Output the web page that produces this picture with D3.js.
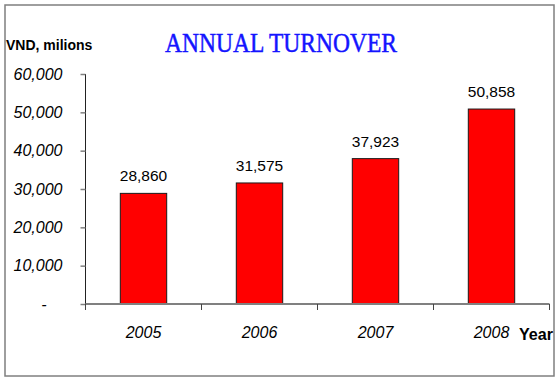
<!DOCTYPE html>
<html><head><meta charset="utf-8">
<script src="https://cdn.jsdelivr.net/npm/d3@7"></script>
<style>html,body{margin:0;padding:0;background:#fff;}svg{display:block;}</style>
</head><body>
<svg id="chart" width="560" height="382"></svg>
<script>
const categories = ["2005", "2006", "2007", "2008"];
const turnover = [28860, 31575, 37923, 50858];
const yTicks = [0, 10000, 20000, 30000, 40000, 50000, 60000];
const titleText = "ANNUAL TURNOVER";
const yAxisTitle = "VND, milions";
const xAxisTitle = "Year";

const SANS = "'Liberation Sans', Arial, sans-serif";
const svg = d3.select("#chart");
const m = {left: 85.5, right: 549.5, top: 74, bottom: 304};

svg.append("rect").attr("x", 5).attr("y", 5).attr("width", 549).attr("height", 371)
  .attr("fill", "#fff").attr("stroke", "#7f7f7f").attr("stroke-width", 1.5);

const x = d3.scaleBand().domain(categories).range([m.left, m.right]).paddingInner(0.6).paddingOuter(0.3);
const y = d3.scaleLinear().domain([0, 60000]).range([m.bottom, m.top]);

const fmt = d3.format(",");

// bars
svg.selectAll("rect.bar").data(categories).enter().append("rect")
  .attr("class", "bar")
  .attr("x", d => x(d))
  .attr("width", x.bandwidth())
  .attr("y", (d, i) => y(turnover[i]))
  .attr("height", (d, i) => y(0) - y(turnover[i]))
  .attr("fill", "#ff0000").attr("stroke", "#1a1a1a").attr("stroke-width", 1);

// y axis
const yAxis = d3.axisLeft(y).tickValues(yTicks).tickSize(5).tickPadding(18)
  .tickFormat(d => d === 0 ? "-" : fmt(d));
const gy = svg.append("g").attr("transform", `translate(${m.left},0)`).call(yAxis);
gy.select(".domain").attr("stroke", "#222").attr("stroke-width", 1).attr("d", `M0,${m.top}V${m.bottom + 5}`);
gy.selectAll(".tick line").attr("stroke", "#808080").attr("stroke-width", 1.5);
gy.selectAll(".tick text").attr("font-family", SANS)
  .attr("font-size", 16).attr("font-style", "italic").attr("fill", "#000");
gy.selectAll(".tick").filter(d => d === 0).select("text").attr("x", -39);

// x axis
const gx = svg.append("g");
gx.append("line").attr("x1", m.left).attr("x2", m.right).attr("y1", m.bottom).attr("y2", m.bottom)
  .attr("stroke", "#808080").attr("stroke-width", 2);
gx.selectAll("line.xt").data(d3.range(categories.length + 1)).enter().append("line")
  .attr("class", "xt")
  .attr("x1", i => m.left + i * x.step()).attr("x2", i => m.left + i * x.step())
  .attr("y1", m.bottom).attr("y2", m.bottom + 6)
  .attr("stroke", "#444").attr("stroke-width", 1);
gx.selectAll("text.xl").data(categories).enter().append("text")
  .attr("class", "xl")
  .attr("x", d => x(d) + x.bandwidth() / 2).attr("y", 338)
  .attr("text-anchor", "middle")
  .attr("font-family", SANS)
  .attr("font-size", 16).attr("font-style", "italic").text(d => d);

// value labels
svg.selectAll("text.val").data(categories).enter().append("text")
  .attr("class", "val")
  .attr("x", d => x(d) + x.bandwidth() / 2)
  .attr("y", (d, i) => y(turnover[i]) - 12)
  .attr("text-anchor", "middle")
  .attr("font-family", SANS)
  .attr("font-size", 15.5).text((d, i) => fmt(turnover[i]));

// titles
svg.append("text").attr("x", 165).attr("y", 52)
  .attr("font-family", "'Liberation Serif', 'Times New Roman', serif")
  .attr("font-size", 28).attr("fill", "#1414ff")
  .attr("stroke", "#1414ff").attr("stroke-width", 0.5)
  .attr("textLength", 232).attr("lengthAdjust", "spacingAndGlyphs")
  .text(titleText);
svg.append("text").attr("x", 6).attr("y", 50)
  .attr("font-family", SANS)
  .attr("font-size", 14).attr("font-weight", "bold").text(yAxisTitle);
svg.append("text").attr("x", 519).attr("y", 340)
  .attr("font-family", SANS)
  .attr("font-size", 16).attr("font-weight", "bold")
  .attr("textLength", 34).attr("lengthAdjust", "spacingAndGlyphs").text(xAxisTitle);
</script>
</body></html>
